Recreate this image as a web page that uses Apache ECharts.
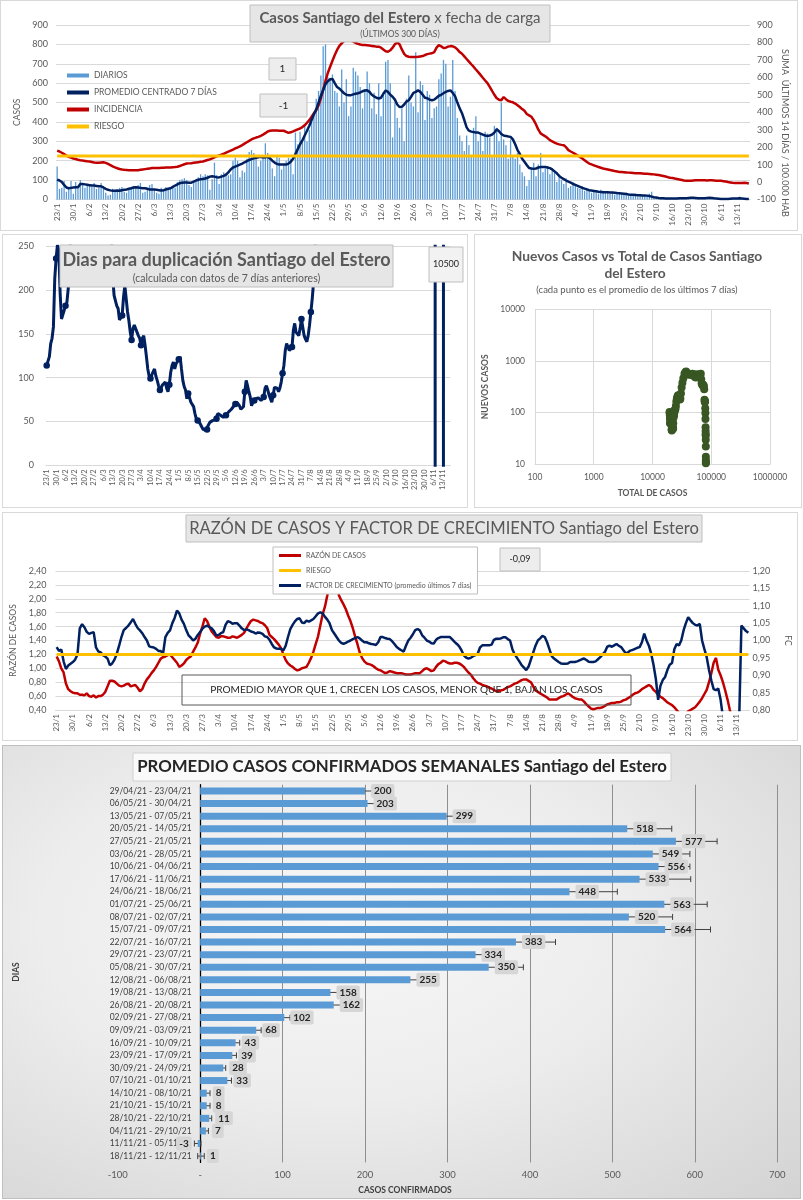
<!DOCTYPE html>
<html><head><meta charset="utf-8">
<script src="https://cdn.jsdelivr.net/npm/echarts@6/dist/echarts.min.js"></script>
<style>
html,body{margin:0;padding:0;background:#fff;}
body{width:803px;height:1200px;position:relative;overflow:hidden;}
.p{position:absolute;box-sizing:border-box;border:1px solid #d9d9d9;background:#fff;}
#c5{border-color:#bfbfbf;background:radial-gradient(ellipse at 42% 40%, #f7f7f7 0%, #ededed 45%, #d3d3d3 100%);}
</style></head><body>
<div id="c1" class="p" style="left:0;top:0;width:798px;height:231px"></div>
<div id="c2" class="p" style="left:2px;top:234px;width:466px;height:274px"></div>
<div id="c3" class="p" style="left:474px;top:234px;width:328px;height:274px"></div>
<div id="c4" class="p" style="left:2px;top:512px;width:796px;height:229px"></div>
<div id="c5" class="p" style="left:2px;top:745px;width:799px;height:454px"></div>
<script>
// ---------- DATA ----------
const START_DAY = [2021, 0, 23];   // 23/1/2021, 300 daily categories
const N_DAYS = 300;

const diarios = [
170,55,60,95,40,65,95, 30,90,70,100,85,60,80, 75,65,85,55,60,85,70, 35,20,25,55,40,45,60,
65,40,35,50,65,70,60, 75,85,35,40,55,75,80, 50,35,30,60,45,65,50, 60,70,60,90,100,105,110,
100,75,65,90,100,115,130, 120,130,125,50,105,190,125, 80,130,140,135,125,130,200, 215,200,115,150,140,210,245,
255,240,230,170,200,210,290, 240,230,160,120,225,215,155, 180,200,215,210,130,345,285, 350,300,380,300,360,400,450,
520,560,640,790,800,630,620, 645,560,550,480,670,500,620, 430,480,680,660,640,580,470, 570,660,600,470,550,440,600,
430,550,710,720,600,320,500, 420,370,470,300,520,640,500, 480,760,450,610,590,410,560, 540,420,470,480,620,650,720,
700,480,530,720,560,420,330, 300,250,330,280,230,370,430, 300,340,250,350,340,320,230, 380,370,300,500,310,280,210,
310,230,210,240,180,140,120, 70,100,160,190,120,180,240, 140,160,170,130,150,140,90, 120,100,80,110,60,70,90,
80,60,55,70,45,50,50, 35,45,40,30,50,45,35, 40,30,40,25,35,30,28, 30,35,20,25,22,30,15,
20,25,18,22,30,40,10, 8,10,5,6,4,7,5, 4,6,5,8,5,7,9, 12,10,8,6,7,5,8,
9,10,6,7,5,4,3, 2,1,3,4,5,6,4, 5,15,6,4,3,2];

const promedio = [
103,98,90,75,62,58,60, 62,63,63,80,80,78,76, 74,72,72,70,68,68,62, 55,50,47,45,45,46,45,
48,50,52,55,58,62,63, 62,60,58,58,55,52,52, 52,50,48,46,48,52,55, 58,65,72,78,84,87,88,
88,86,87,92,98,102,105, 106,108,112,118,120,118,115, 114,118,122,128,140,155,165, 170,175,180,185,192,198,204,
208,212,215,218,220,216,218, 220,212,200,190,184,180,180, 180,180,185,195,210,235,260, 285,305,330,355,380,410,440,
465,500,535,565,595,610,620, 622,600,580,572,560,548,540, 538,538,542,545,548,552,558, 562,563,555,540,532,525,521,
525,545,562,555,540,530,515, 490,477,478,490,505,512,530, 550,555,563,555,540,525,522, 515,512,515,525,535,540,548,
555,560,563,550,533,500,470, 445,410,372,355,350,348,345, 345,340,335,330,328,330,335, 345,362,352,338,330,328,325,
323,310,285,255,235,210,195, 178,162,160,158,160,165,168, 168,168,165,162,155,145,135, 122,112,105,98,92,87,80,
75,70,65,60,56,52,48, 46,44,42,40,39,38,38, 37,36,36,35,33,32,31, 30,28,26,25,24,23,22,
22,21,21,20,18,15,12, 10,8,7,6,5,5,5, 5,5,5,6,6,7,7, 8,9,9,8,7,7,6,
6,8,9,8,6,5,4, 3,2,2,3,4,5,5, 5,6,5,4,3,3];

const incidencia = [
180,175,168,160,152,145,140, 135,132,128,125,123,121,119, 118,115,112,110,110,112,113, 110,104,97,90,84,79,75,
72,70,69,68,68,67,67, 68,70,72,74,76,78,80, 80,80,81,82,82,83,84, 84,85,86,88,92,97,102,
106,107,108,110,112,114,116, 118,122,126,130,136,142,148, 152,157,162,168,174,180,186, 193,198,205,212,220,228,236,
244,250,255,259,265,272,280, 290,294,296,296,295,294,294, 294,288,282,285,290,296,302, 307,315,325,340,355,375,395,
412,440,480,530,580,625,661, 695,728,757,780,795,808,814, 815,810,805,798,792,788,786, 785,784,782,780,778,776,776,
770,760,750,747,755,770,790, 800,790,760,735,722,718,716, 716,717,718,720,722,728,733, 736,738,745,770,785,778,768,
770,776,779,778,772,760,745, 735,720,705,690,675,661,645, 630,614,598,582,567,545,522, 500,480,472,469,487,475,465,
460,457,450,440,430,418,408, 390,382,374,355,330,300,279, 270,262,252,240,233,226,220, 216,213,211,200,183,175,168,
160,152,144,135,125,115,106, 101,96,91,86,82,78,75, 72,69,66,63,61,58,57, 56,55,54,53,52,51,50,
50,49,48,47,46,45,44, 42,40,38,35,32,28,25, 23,20,18,15,12,9,7, 7,8,9,10,11,11,10,
10,9,10,10,9,8,7, 7,5,3,0,-2,-4,-5, -5,-6,-5,-4,-6,-8];
const RIESGO_INCIDENCIA = 150;

const diasDuplicacion = [
114,116,124,139,145,158,213,236,252,245,196,167,169,177,182,186,202,230,
270,290,310,330,340,360,380,390,400,410,420,410,400,390,380,370,360,350,340,330,320,310,300,295,290,285,280,275,270,265,260,
215,
194,188,182,179,166,168,171,192,205,190,
175,165,152,143,156,160,162,152,148,145,
137,145,148,137,124,110,102,99,103,107,
110,102,97,91,86,88,92,94,95,88,
84,92,106,114,118,110,116,118,121,124,
110,97,90,86,76,82,80,72,70,67,
59,53,51,50,49,44,41,40,40,41,
46,49,50,51,51,52,53,59,59,57,
56,55,56,57,59,61,63,64,65,68,
70,72,74,68,64,63,67,84,97,91,
84,78,68,72,74,76,78,77,76,74,
76,78,88,91,86,80,76,72,80,89,
89,88,84,88,95,105,114,131,139,135,
131,133,135,154,162,152,150,148,156,167,
169,148,144,141,148,160,175,190,209,240,
290,
330,380,420,460,520,560,600,650,700,760,820,880,950,1000,1080,1150,1200,1300,1400,1500,1600,1700,1800,1900,2000,2100,2200,2350,2500,2650,
2800,2950,3100,3300,3500,3700,3900,4100,4300,4500,4700,4900,5100,5300,5500,5800,6100,6400,6700,7000,7300,7600,7900,8200,8500,8800,9100,9400,9700,10000,
10300,10600,11000,11400,11800,12200,12600,13000,13500,14000,14500,15000,15500,16000,16500,17000,17500,18000,18500,19000,19500,20000,21000,22000,23000,24000,25000,
5000,
-20000,-15000,-10000,-8000,-6000,-5000,
9800,10100,10300,10400,10500];

const totalCasos = [19500,19600,19700,19800,19900,20050,20250,20450,20600,20800,21000,21150,21300,21450,21600,21800,21950,22100,22250,22400,
22550,22800,23050,23300,23600,23900,24300,24600,25000,25450,25950,26400,26900,27500,28200,28800,29300,29800,30500,31300,
32300,33500,35000,36500,37400,38800,40400,42000,43600,45300,47500,49100,51000,52800,54600,56300,58500,60100,62200,64300,
66400,67500,68600,70100,71500,72500,73800,74900,75900,76700,77400,77900,78500,79000,79400,79700,80000,80200,80350,80500,
80650,80800,80900,80950,81000,81100];
const nuevosCasos = [103,98,90,75,62,62,80,76,74,70,66,47,45,50,58,60,58,50,48,50,
62,80,88,90,102,112,115,118,135,165,185,198,212,218,215,195,180,185,235,305,
380,465,565,610,622,580,560,540,545,555,563,525,555,490,480,530,555,522,515,540,
563,445,370,348,335,345,338,323,285,178,160,168,162,122,98,75,52,44,38,36,
30,22,14,12,11,10.5];

const razon = [
1.17,1.10,1.00,0.94,0.78,0.70,0.67, 0.65,0.64,0.64,0.62,0.62,0.61,0.64, 0.60,0.59,0.61,0.58,0.60,0.60,0.62, 0.66,0.74,0.82,0.82,0.81,0.78,0.75,
0.74,0.75,0.77,0.78,0.74,0.75,0.76, 0.72,0.67,0.70,0.78,0.84,0.88,0.93, 0.97,1.02,1.08,1.14,1.16,1.17,1.19, 1.20,1.16,1.12,1.08,1.02,1.04,1.07,
1.12,1.15,1.17,1.24,1.30,1.37,1.50, 1.60,1.72,1.68,1.60,1.53,1.49,1.45, 1.44,1.46,1.46,1.45,1.44,1.44,1.46, 1.45,1.44,1.46,1.48,1.51,1.57,1.63,
1.68,1.70,1.69,1.68,1.66,1.65,1.62, 1.58,1.48,1.45,1.42,1.38,1.34,1.29, 1.20,1.12,1.07,1.04,1.02,0.99,0.97, 0.98,1.00,1.01,1.02,1.08,1.15,1.24,
1.35,1.46,1.62,1.78,1.89,2.05,2.25, 2.45,2.50,2.30,2.05,1.98,1.92,1.85, 1.76,1.68,1.58,1.46,1.35,1.23,1.15, 1.10,1.07,1.06,1.05,1.03,1.00,0.98,
0.97,0.95,0.93,0.94,0.96,0.95,0.94, 0.93,0.93,0.93,0.92,0.91,0.91,0.91, 0.92,0.93,0.93,0.93,0.96,0.99,1.00, 0.98,0.96,0.97,1.02,1.06,1.08,1.11,
1.10,1.08,1.07,1.07,1.08,1.08,1.07, 1.05,1.02,0.98,0.94,0.91,0.86,0.82, 0.79,0.78,0.76,0.75,0.74,0.72,0.71, 0.69,0.67,0.67,0.68,0.69,0.71,0.73,
0.74,0.76,0.78,0.79,0.81,0.83,0.84, 0.84,0.82,0.80,0.74,0.68,0.66,0.64, 0.62,0.60,0.58,0.55,0.55,0.55,0.55, 0.57,0.59,0.60,0.62,0.64,0.62,0.59,
0.57,0.56,0.55,0.55,0.52,0.48,0.45, 0.42,0.41,0.42,0.43,0.43,0.44,0.46, 0.48,0.49,0.50,0.50,0.51,0.51,0.52, 0.54,0.55,0.57,0.59,0.62,0.64,0.65,
0.67,0.70,0.72,0.74,0.76,0.74,0.69, 0.66,0.62,0.59,0.57,0.54,0.51,0.49, 0.47,0.44,0.40,0.36,0.34,0.33,0.35, 0.38,0.40,0.42,0.44,0.48,0.52,0.57,
0.63,0.69,0.80,0.93,1.08,1.15,0.98, 0.90,0.80,0.68,0.55,0.40,0.28,0.18, 0.10,0.05,0.05,0.05,0.05,0.05];
const RIESGO_RAZON = 1.2;

const factorCrecimiento = [
0.981,0.970,0.974,0.940,0.918,0.928,0.933, 0.938,0.945,0.960,1.035,1.047,1.038,1.025, 1.019,1.022,1.024,0.980,0.969,0.966,0.958, 0.954,0.948,0.929,0.934,0.945,0.962,0.985,
1.010,1.030,1.036,1.043,1.052,1.062,1.048, 1.036,1.029,1.021,1.010,1.000,0.983,0.981, 0.980,0.976,0.970,0.970,0.962,1.010,1.022, 1.029,1.050,1.065,1.086,1.078,1.060,1.048,
1.030,1.015,1.008,1.000,1.005,1.016,1.024, 1.034,1.040,1.043,1.039,1.035,1.027,1.015, 1.016,1.021,1.024,1.045,1.056,1.053,1.048, 1.050,1.050,1.043,1.035,1.030,1.032,1.030,
1.026,1.024,1.020,1.023,1.022,1.019,1.012, 1.010,1.002,0.990,0.980,0.977,0.976,0.976, 0.971,0.985,1.010,1.033,1.045,1.055,1.062, 1.064,1.052,1.050,1.057,1.054,1.058,1.062,
1.070,1.078,1.081,1.078,1.068,1.060,1.049, 1.030,1.020,1.010,1.000,0.993,0.990,0.993, 0.997,1.000,1.004,1.007,1.010,1.006,1.000, 0.995,0.995,0.992,0.990,0.989,0.987,0.995,
1.010,1.010,1.007,1.005,1.004,0.998,0.990, 0.981,0.976,0.972,0.968,0.985,1.000,1.008, 1.018,1.030,1.033,1.029,1.015,1.008,1.000, 0.997,0.992,0.991,1.002,1.007,1.010,1.010,
1.010,1.010,1.010,1.003,0.996,0.990,0.983, 0.972,0.957,0.951,0.948,0.950,0.955,0.958, 0.962,0.980,0.986,0.986,0.986,0.986,0.988, 1.002,1.005,1.005,1.006,1.009,1.009,1.004,
1.000,0.975,0.960,0.950,0.940,0.929,0.922, 0.915,0.925,0.945,0.965,0.985,1.000,1.006, 1.013,1.010,0.995,0.975,0.955,0.948,0.943, 0.938,0.934,0.933,0.933,0.934,0.938,0.938,
0.938,0.940,0.943,0.946,0.948,0.944,0.939, 0.938,0.938,0.940,0.946,0.952,0.960,0.967, 0.982,0.985,0.982,0.986,0.990,0.985,0.981, 0.972,0.963,0.966,0.971,0.973,0.976,0.979,
0.981,0.995,1.020,1.000,0.985,0.962,0.930, 0.890,0.829,0.870,0.886,0.895,0.915,0.930, 0.935,0.975,0.990,0.986,1.000,1.029,1.050, 1.067,1.058,1.050,1.045,1.043,1.048,1.000,
0.975,0.952,0.915,0.885,0.860,0.857,0.862, 0.830,0.780,0.740,0.710,0.700,0.700,0.710, 0.720,0.760,1.043,1.035,1.027,1.022];

const semanas = ["29/04/21 - 23/04/21","06/05/21 - 30/04/21","13/05/21 - 07/05/21","20/05/21 - 14/05/21","27/05/21 - 21/05/21",
"03/06/21 - 28/05/21","10/06/21 - 04/06/21","17/06/21 - 11/06/21","24/06/21 - 18/06/21","01/07/21 - 25/06/21",
"08/07/21 - 02/07/21","15/07/21 - 09/07/21","22/07/21 - 16/07/21","29/07/21 - 23/07/21","05/08/21 - 30/07/21",
"12/08/21 - 06/08/21","19/08/21 - 13/08/21","26/08/21 - 20/08/21","02/09/21 - 27/08/21","09/09/21 - 03/09/21",
"16/09/21 - 10/09/21","23/09/21 - 17/09/21","30/09/21 - 24/09/21","07/10/21 - 01/10/21","14/10/21 - 08/10/21",
"21/10/21 - 15/10/21","28/10/21 - 22/10/21","04/11/21 - 29/10/21","11/11/21 - 05/11/21","18/11/21 - 12/11/21"];
const promedioSemanal = [200,203,299,518,577,549,556,533,448,563,520,564,383,334,350,255,158,162,102,68,43,39,28,33,8,8,11,7,-3,1];
const errorSemanal = [22,29,26,54,50,45,38,62,58,52,53,55,48,25,42,18,17,12,7,6,5,5,3,5,4,4,3,3,4,4];

// ---------- HELPERS ----------
const FONT = 'Lato, "Open Sans", sans-serif';
const GREY = '#595959';
const DAYS = [];
for (let i = 0; i < N_DAYS; i++) {
  const d = new Date(START_DAY[0], START_DAY[1], START_DAY[2] + i);
  DAYS.push(d.getDate() + '/' + (d.getMonth() + 1));
}
function dayAxis(fs) {
  return {type:'category', data:DAYS, boundaryGap:true,
    axisLine:{lineStyle:{color:'#d9d9d9'}}, axisTick:{show:false},
    axisLabel:{interval:function(i){return i % 7 === 0;}, rotate:90, fontSize:fs, color:GREY, margin:4, fontFamily:FONT},
    splitLine:{show:false}};
}
function box(x, y, w, h, fill, stroke) {
  return {type:'rect', z:100, shape:{x:x, y:y, width:w, height:h}, style:{fill:fill, stroke:stroke, lineWidth:1}};
}
function txt(x, y, text, size, opts) {
  opts = opts || {};
  return {type:'text', z:101, x:x, y:y, rotation:opts.rot || 0,
    style:Object.assign({text:text, fontSize:size, fontFamily:FONT, fill:opts.color || GREY,
      fontWeight:opts.bold ? 'bold' : 'normal', align:'center', verticalAlign:'middle'}, opts.style || {})};
}
const sl = {lineStyle:{color:'#d9d9d9', width:1}};

// ---------- CHART 1 ----------
const c1 = echarts.init(document.getElementById('c1'), null, {renderer:'canvas'});
c1.setOption({
  animation:false, textStyle:{fontFamily:FONT},
  grid:{left:55, top:24, width:694, height:174.5, containLabel:false, outerBoundsMode:'none'},
  legend:{data:[{name:'DIARIOS', icon:'rect'}, {name:'PROMEDIO CENTRADO 7 DÍAS', icon:'rect'}, {name:'INCIDENCIA', icon:'rect'}, {name:'RIESGO', icon:'rect'}],
    orient:'vertical', left:61, top:65, itemWidth:22, itemHeight:4, itemGap:8, selectedMode:false,
    textStyle:{fontSize:8.5, color:GREY, fontFamily:FONT}},
  xAxis:dayAxis(8),
  yAxis:[
    {type:'value', min:0, max:900, interval:100, name:'CASOS', nameLocation:'middle', nameGap:33,
     nameTextStyle:{fontSize:8.5, color:GREY}, axisLabel:{fontSize:9, color:GREY, margin:8},
     splitLine:sl, axisLine:{show:false}, axisTick:{show:false}},
    {type:'value', min:-100, max:900, interval:100, position:'right',
     axisLabel:{fontSize:9, color:GREY, margin:7}, splitLine:{show:false}, axisLine:{show:false}, axisTick:{show:false}}
  ],
  series:[
    {name:'DIARIOS', type:'bar', data:diarios, barWidth:1.3, itemStyle:{color:'#5B9BD5'}},
    {name:'INCIDENCIA', type:'line', yAxisIndex:1, data:incidencia, symbol:'none', lineStyle:{color:'#C00000', width:2.5}, itemStyle:{color:'#C00000'}},
    {name:'PROMEDIO CENTRADO 7 DÍAS', type:'line', data:promedio, symbol:'none', lineStyle:{color:'#002060', width:2.5}, itemStyle:{color:'#002060'}},
    {name:'RIESGO', type:'line', yAxisIndex:1, data:DAYS.map(function(){return RIESGO_INCIDENCIA;}), symbol:'none', lineStyle:{color:'#FFC000', width:3}, itemStyle:{color:'#FFC000'}}
  ],
  graphic:[
    box(249, 4, 300, 37, '#e7e6e6', '#bfbfbf'),
    txt(399, 17, '{b|Casos Santiago del Estero} x fecha de carga', 15, {style:{rich:{b:{fontWeight:'bold', fontSize:15, fill:GREY, fontFamily:FONT}}}}),
    txt(399, 33, '(ÚLTIMOS 300 DÍAS)', 8.5),
    box(268, 57, 27, 22, '#ededed', '#bfbfbf'), txt(281.5, 68, '1', 10, {color:'#262626'}),
    box(259, 93, 47, 23, '#ededed', '#bfbfbf'), txt(282.5, 104.5, '-1', 10, {color:'#262626'}),
    txt(784, 132, 'SUMA  ÚLTIMOS 14 DÍAS / 100.000 HAB', 9, {rot:-Math.PI / 2})
  ]
});

// ---------- CHART 2 ----------
const c2 = echarts.init(document.getElementById('c2'));
c2.setOption({
  animation:false, textStyle:{fontFamily:FONT},
  grid:{left:43, top:11.3, width:404.4, height:219, containLabel:false, outerBoundsMode:'none'},
  xAxis:dayAxis(7.5),
  yAxis:{type:'value', min:0, max:250, interval:50, axisLabel:{fontSize:9, color:GREY, margin:12},
    splitLine:sl, axisLine:{show:false}, axisTick:{show:false}},
  series:[{type:'line', data:diasDuplicacion, clip:true, symbol:'circle', symbolSize:6.5,
    lineStyle:{color:'#002060', width:3}, itemStyle:{color:'#002060'}}],
  graphic:[
    box(57, 10, 333, 42, '#e7e6e6', '#bfbfbf'),
    txt(223.5, 25, 'Dias para duplicación Santiago del Estero', 18, {bold:true}),
    txt(223.5, 44, '(calculada con datos de 7 días anteriores)', 10.5),
    box(426, 12, 34, 35, '#f2f2f2', '#bfbfbf'),
    txt(443, 29.5, '10500', 9, {color:'#262626'})
  ]
});

// ---------- CHART 3 ----------
const c3 = echarts.init(document.getElementById('c3'));
c3.setOption({
  animation:false, textStyle:{fontFamily:FONT},
  grid:{left:60, top:74.3, width:235, height:155, containLabel:false, outerBoundsMode:'none'},
  xAxis:{type:'log', logBase:10, min:100, max:1000000, name:'TOTAL DE CASOS', nameLocation:'middle', nameGap:24,
    nameTextStyle:{fontSize:8.5, fontWeight:'bold', color:GREY},
    axisLabel:{fontSize:8.5, color:GREY, margin:8, formatter:function(v){return String(v);}},
    axisLine:{lineStyle:{color:'#d9d9d9'}}, axisTick:{show:false}, splitLine:sl},
  yAxis:{type:'log', logBase:10, min:10, max:10000, name:'NUEVOS CASOS', nameLocation:'middle', nameGap:35,
    nameTextStyle:{fontSize:8.5, fontWeight:'bold', color:GREY},
    axisLabel:{fontSize:8.5, color:GREY, margin:10, formatter:function(v){return String(v);}},
    axisLine:{show:true, lineStyle:{color:'#d9d9d9'}}, axisTick:{show:false}, splitLine:sl},
  series:[{type:'scatter', data:totalCasos.map(function(t, i){return [t, nuevosCasos[i]];}),
    symbolSize:8, itemStyle:{color:'#385723', opacity:1}}],
  graphic:[
    txt(162, 22, 'Nuevos Casos vs Total de Casos Santiago', 13.8, {bold:true}),
    txt(160, 39, 'del Estero', 13.8, {bold:true}),
    txt(162, 55, '(cada punto es el promedio de los últimos 7 días)', 9.5)
  ]
});

// ---------- CHART 4 ----------
const fmtComma = function(v){return v.toFixed(2).replace('.', ',');};
const c4 = echarts.init(document.getElementById('c4'));
c4.setOption({
  animation:false, textStyle:{fontFamily:FONT},
  grid:{left:52.5, top:58, width:694, height:139, containLabel:false, outerBoundsMode:'none'},
  legend:{data:[{name:'RAZÓN DE CASOS', icon:'rect'}, {name:'RIESGO', icon:'rect'}, {name:'FACTOR DE CRECIMIENTO (promedio últimos 7 días)', icon:'rect'}],
    orient:'vertical', left:270, top:34, itemWidth:22, itemHeight:3, itemGap:8, padding:[5, 6, 5, 6],
    backgroundColor:'#fff', borderColor:'#bfbfbf', borderWidth:1, selectedMode:false,
    textStyle:{fontSize:7, color:GREY, fontFamily:FONT}},
  xAxis:dayAxis(8),
  yAxis:[
    {type:'value', min:0.4, max:2.4, interval:0.2, name:'RAZÓN DE CASOS', nameLocation:'middle', nameGap:38,
     nameTextStyle:{fontSize:8.5, color:GREY}, axisLabel:{fontSize:9, color:GREY, margin:9, formatter:fmtComma},
     splitLine:sl, axisLine:{show:false}, axisTick:{show:false}},
    {type:'value', min:0.8, max:1.2, interval:0.05, position:'right', name:'FC', nameLocation:'middle', nameGap:34, nameRotate:-90,
     nameTextStyle:{fontSize:8.5, color:GREY}, axisLabel:{fontSize:9, color:GREY, margin:3, formatter:fmtComma},
     splitLine:{show:false}, axisLine:{show:false}, axisTick:{show:false}}
  ],
  series:[
    {name:'RAZÓN DE CASOS', type:'line', data:razon, clip:true, symbol:'none', lineStyle:{color:'#C00000', width:2.5}, itemStyle:{color:'#C00000'}},
    {name:'FACTOR DE CRECIMIENTO (promedio últimos 7 días)', type:'line', yAxisIndex:1, data:factorCrecimiento, clip:true, symbol:'none', lineStyle:{color:'#002060', width:2.5}, itemStyle:{color:'#002060'}},
    {name:'RIESGO', type:'line', data:DAYS.map(function(){return RIESGO_RAZON;}), symbol:'none', lineStyle:{color:'#FFC000', width:3}, itemStyle:{color:'#FFC000'}}
  ],
  graphic:[
    box(183, 2, 516, 27, '#e7e6e6', '#bfbfbf'),
    txt(441, 15.5, 'RAZÓN DE CASOS Y FACTOR DE CRECIMIENTO Santiago del Estero', 16.6),
    box(497, 35, 40, 23, '#ededed', '#bfbfbf'), txt(517, 46.5, '-0,09', 9, {color:'#262626'}),
    {type:'rect', z:100, shape:{x:179, y:162, width:449, height:30}, style:{fill:'none', stroke:'#595959', lineWidth:1}},
    txt(403.5, 177, 'PROMEDIO MAYOR QUE 1, CRECEN LOS CASOS, MENOR QUE 1, BAJAN LOS CASOS', 10.1, {color:'#262626'})
  ]
});

// ---------- CHART 5 ----------
const c5 = echarts.init(document.getElementById('c5'));
const barItems = promedioSemanal.map(function(v){return v < 0 ? {value:v, label:{position:'left'}} : v;});
c5.setOption({
  animation:false, textStyle:{fontFamily:FONT},
  grid:{left:114.7, top:38.7, width:659.6, height:377.7, containLabel:false, outerBoundsMode:'none'},
  xAxis:{type:'value', min:-100, max:700, interval:100,
    axisLabel:{fontSize:9.5, color:GREY, margin:8, formatter:function(v){return v === 0 ? '-' : String(v);}},
    axisLine:{show:false}, axisTick:{show:false},
    splitLine:{show:true, showMinLine:false, lineStyle:{color:'#8f8f8f', width:1}}},
  yAxis:{type:'category', data:semanas, inverse:true,
    axisLine:{onZero:true, lineStyle:{color:'#000', width:1.3}}, axisTick:{show:false},
    axisLabel:{fontSize:8.5, color:'#404040', margin:-74}},
  series:[
    {type:'bar', data:promedioSemanal, barWidth:7, itemStyle:{color:'#5B9BD5'}},
    {type:'custom', data:promedioSemanal.map(function(v, i){return [v, errorSemanal[i], i];}),
     encode:{x:0, y:2},
     renderItem:function(params, api){
       const v = api.value(0), e = api.value(1), i = api.value(2);
       const p1 = api.coord([v - e, i]), p2 = api.coord([v + e, i]);
       const st = {stroke:'#404040', lineWidth:1};
       return {type:'group', children:[
         {type:'line', shape:{x1:p1[0], y1:p1[1], x2:p2[0], y2:p2[1]}, style:st},
         {type:'line', shape:{x1:p1[0], y1:p1[1] - 3, x2:p1[0], y2:p1[1] + 3}, style:st},
         {type:'line', shape:{x1:p2[0], y1:p2[1] - 3, x2:p2[0], y2:p2[1] + 3}, style:st}
       ]};
     }},
    {type:'bar', data:barItems, barWidth:7, barGap:'-100%', itemStyle:{color:'rgba(0,0,0,0)'},
     label:{show:true, position:'right', distance:6, fontSize:10, fontWeight:'bold', color:'#262626',
       backgroundColor:'#d6d6d6', padding:[2, 3], borderRadius:2, fontFamily:FONT}}
  ],
  graphic:[
    box(130, 7, 538, 28, '#fafafa', '#d0d0d0'),
    txt(399, 21, 'PROMEDIO CASOS CONFIRMADOS SEMANALES Santiago del Estero', 16.8, {bold:true, color:'#262626'}),
    txt(13, 226, 'DIAS', 8.5, {bold:true, color:'#404040', rot:Math.PI / 2}),
    txt(402, 444, 'CASOS CONFIRMADOS', 8.5, {bold:true, color:'#404040'})
  ]
});
</script>
</body></html>
